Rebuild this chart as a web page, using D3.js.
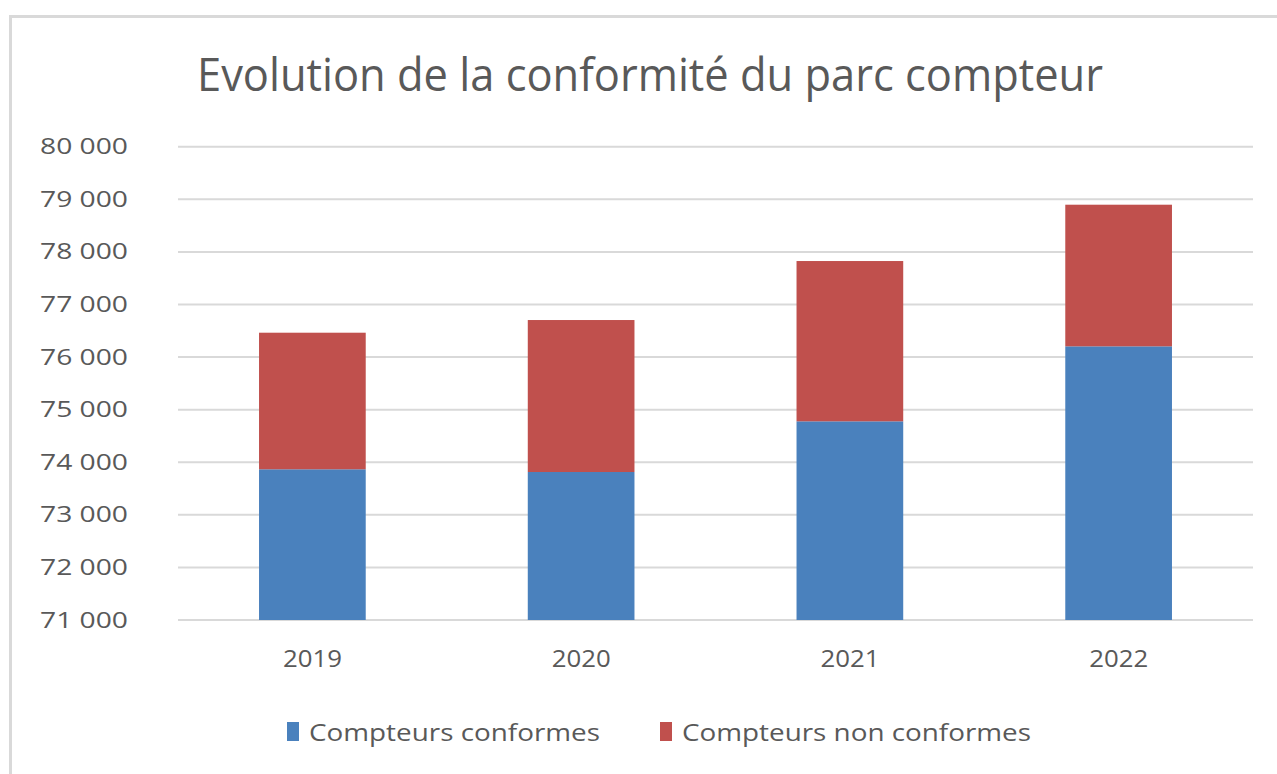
<!DOCTYPE html>
<html>
<head>
<meta charset="utf-8">
<script src="https://cdn.jsdelivr.net/npm/d3@7"></script>
<style>
  body { margin: 0; background: #fff; }
  svg { display: block; font-family: "Open Sans", sans-serif; }
</style>
</head>
<body>
<svg id="chart" width="1277" height="774"></svg>
<script>
// data
const years = ["2019", "2020", "2021", "2022"];
const conformes = [73866, 73814, 74778, 76204];
const nonConformes = [2597, 2890, 3048, 2693];
const yTicks = [71000, 72000, 73000, 74000, 75000, 76000, 77000, 78000, 79000, 80000];
const seriesNames = ["Compteurs conformes", "Compteurs non conformes"];
const seriesColors = ["#4a81bd", "#c0504d"];

let W = 1277, H = 774;
let LEFT = 178, RIGHT = 1253, TOP = 146.7, BOTTOM = 620;

let svg = d3.select('#chart');

// frame of the chart area
svg.append('rect')
    .attr('x', 10.5).attr('y', 16.5)
    .attr('width', W + 20).attr('height', H + 20)
    .attr('fill', 'none')
    .attr('stroke', '#d9d9d9')
    .attr('stroke-width', 3);

// title
svg.append('text')
    .attr('x', 650).attr('y', 91)
    .attr('text-anchor', 'middle')
    .attr('font-size', 46)
    .attr('fill', '#595959')
    .attr('textLength', 906)
    .attr('lengthAdjust', 'spacingAndGlyphs')
    .text('Evolution de la conformité du parc compteur');

let rows = years.map((y, i) => ({ year: y, c: conformes[i], n: nonConformes[i] }));

let xScale = d3.scaleBand()
    .domain(years)
    .range([LEFT, RIGHT])
    .paddingInner(0.603)
    .paddingOuter(0.3015);

let yScale = d3.scaleLinear()
    .domain([71000, 80000])
    .range([BOTTOM, TOP]);

// gridlines
svg.append('g')
    .selectAll('line')
    .data(yTicks)
    .join('line')
    .attr('x1', LEFT).attr('x2', RIGHT)
    .attr('y1', d => yScale(d)).attr('y2', d => yScale(d))
    .attr('stroke', '#d9d9d9')
    .attr('stroke-width', 2);

// y axis labels
let fmt = d => d3.format(',')(d).replace(',', ' ');
let yAxis = svg.append('g')
    .attr('transform', `translate(128,0)`)
    .call(d3.axisLeft(yScale).tickValues(yTicks).tickSize(0).tickPadding(0).tickFormat(fmt));
yAxis.select('.domain').remove();
yAxis.selectAll('text')
    .attr('font-family', '"Open Sans", sans-serif')
    .attr('font-size', 22)
    .attr('fill', '#595959')
    .attr('textLength', 88)
    .attr('lengthAdjust', 'spacingAndGlyphs');

// stacked bars
let stack = d3.stack().keys(['c', 'n'])(rows);
svg.append('g')
    .selectAll('g')
    .data(stack)
    .join('g')
    .attr('fill', (d, i) => seriesColors[i])
    .selectAll('rect')
    .data(d => d)
    .join('rect')
    .attr('x', d => xScale(d.data.year))
    .attr('width', xScale.bandwidth())
    .attr('y', d => yScale(Math.min(d[1], 80000)))
    .attr('height', d => yScale(Math.max(d[0], 71000)) - yScale(d[1]));

// x axis labels
let xAxis = svg.append('g')
    .attr('transform', `translate(0,${BOTTOM + 30})`)
    .call(d3.axisBottom(xScale).tickSize(0).tickPadding(0));
xAxis.select('.domain').remove();
xAxis.selectAll('text')
    .attr('font-family', '"Open Sans", sans-serif')
    .attr('font-size', 24)
    .attr('fill', '#595959')
    .attr('textLength', 59)
    .attr('lengthAdjust', 'spacingAndGlyphs');

// legend
let legendX = [287, 660];
let legendW = [291, 349];
let legend = svg.append('g')
    .selectAll('g')
    .data(seriesNames)
    .join('g')
    .attr('transform', (d, i) => `translate(${legendX[i]},722)`);
legend.append('rect')
    .attr('width', 12).attr('height', 19)
    .attr('fill', (d, i) => seriesColors[i]);
legend.append('text')
    .attr('x', 22).attr('y', 19)
    .attr('font-size', 24)
    .attr('fill', '#595959')
    .attr('textLength', (d, i) => legendW[i])
    .attr('lengthAdjust', 'spacingAndGlyphs')
    .text(d => d);
</script>
</body>
</html>
